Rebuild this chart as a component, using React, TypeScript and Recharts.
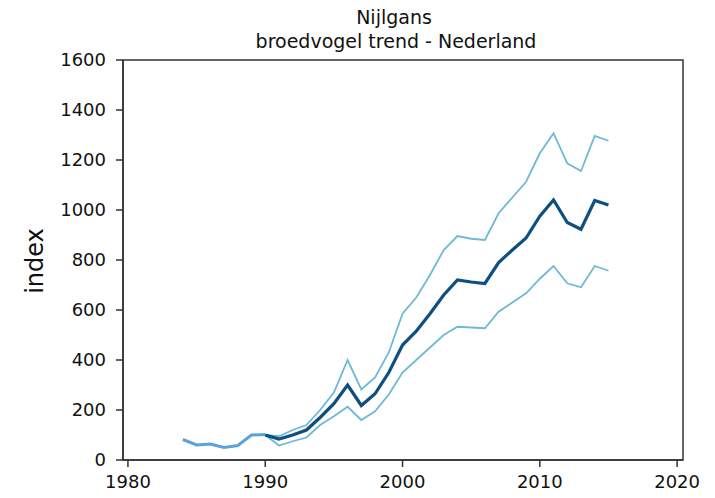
import { LineChart, Line, XAxis, YAxis, ReferenceArea } from "recharts"

const years = [
  1984, 1985, 1986, 1987, 1988, 1989, 1990, 1991, 1992, 1993, 1994, 1995, 1996,
  1997, 1998, 1999, 2000, 2001, 2002, 2003, 2004, 2005, 2006, 2007, 2008, 2009,
  2010, 2011, 2012, 2013, 2014, 2015,
]

// 1984-1990 (single line, no interval)
const early = [82, 60, 64, 50, 58, 100, 102]

// 1990-2015
const trend = [
  100, 84, 100, 120, 170, 225, 300, 218, 265, 350, 460, 515, 585, 660, 720, 712,
  706, 790, 840, 888, 975, 1040, 950, 923, 1038, 1020,
]
const upper = [
  100, 95, 120, 140, 200, 270, 400, 282, 330, 430, 585, 650, 740, 840, 896, 885,
  880, 987, 1050, 1113, 1227, 1307, 1187, 1156, 1296, 1277,
]
const lower = [
  100, 58, 75, 90, 140, 175, 213, 160, 195, 262, 350, 400, 450, 500, 533, 530,
  527, 593, 630, 667, 725, 776, 707, 691, 776, 757,
]

const yTicks = [0, 200, 400, 600, 800, 1000, 1200, 1400, 1600]
const xTicks = [1980, 1990, 2000, 2010, 2020]

const data = years.map((year, i) => {
  const j = year - 1990
  return {
    year,
    early: i < early.length ? early[i] : null,
    trend: j >= 0 ? trend[j] : null,
    upper: j >= 0 ? upper[j] : null,
    lower: j >= 0 ? lower[j] : null,
  }
})

const font = "'DejaVu Sans', sans-serif"

export default function App() {
  return (
    <div style={{ position: "absolute", left: 0, top: 0, background: "#fff" }}>
      <LineChart
        width={715}
        height={498}
        data={data}
        margin={{ top: 60, right: 32, left: 0, bottom: 8 }}
      >
        <text x={394} y={24} textAnchor="middle" fontSize={19} fontFamily={font} fill="#111">
          Nijlgans
        </text>
        <text x={396} y={48} textAnchor="middle" fontSize={19} fontFamily={font} fill="#111">
          broedvogel trend - Nederland
        </text>
        <text
          x={43}
          y={261}
          transform="rotate(-90 43 261)"
          textAnchor="middle"
          fontSize={24}
          fontFamily={font}
          fill="#111"
        >
          index
        </text>
        <XAxis
          dataKey="year"
          type="number"
          domain={[1979.64, 2020.43]}
          ticks={xTicks}
          allowDataOverflow
          height={30}
          tickSize={7}
          tickMargin={8}
          stroke="#333"
          strokeWidth={1.5}
          tick={{ fill: "#111", fontSize: 18, fontFamily: font }}
        />
        <YAxis
          domain={[0, 1600]}
          ticks={yTicks}
          width={123}
          tickSize={7}
          tickMargin={10}
          interval={0}
          stroke="#333"
          strokeWidth={1.5}
          tick={{ fill: "#111", fontSize: 18, fontFamily: font }}
        />
        <ReferenceArea
          x1={1979.64}
          x2={2020.43}
          y1={0}
          y2={1600}
          fill="none"
          stroke="#333"
          strokeWidth={1.5}
          ifOverflow="visible"
        />
        <Line dataKey="early" stroke="#5aa2dc" strokeWidth={3} dot={false} isAnimationActive={false} />
        <Line dataKey="upper" stroke="#6db9d6" strokeWidth={1.8} dot={false} isAnimationActive={false} />
        <Line dataKey="lower" stroke="#6db9d6" strokeWidth={1.8} dot={false} isAnimationActive={false} />
        <Line dataKey="trend" stroke="#0e4f80" strokeWidth={3.2} dot={false} isAnimationActive={false} />
      </LineChart>
    </div>
  )
}
